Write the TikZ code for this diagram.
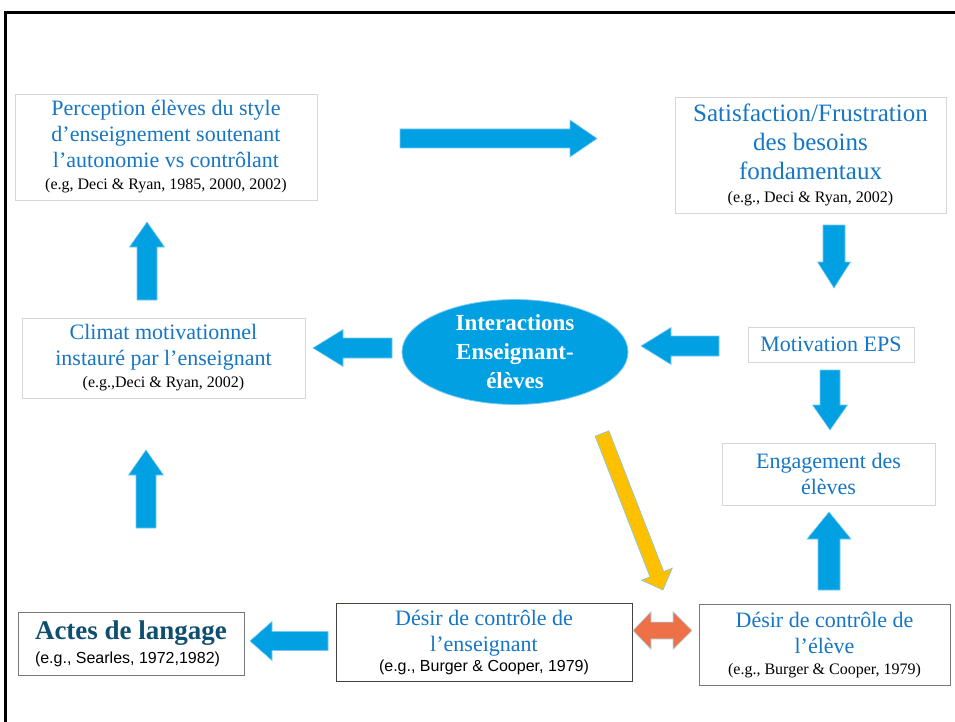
\documentclass[tikz,border=0pt]{standalone}
\usepackage{fontspec}
\setmainfont{Liberation Serif}
\setsansfont{Liberation Sans}
\usetikzlibrary{calc,shapes.geometric}

\definecolor{arrowblue}{RGB}{0,160,227}
\definecolor{arrowedge}{RGB}{120,200,240}
\definecolor{textblue}{RGB}{22,118,198}
\definecolor{lightframe}{RGB}{214,214,214}
\definecolor{midframe}{RGB}{120,120,120}
\definecolor{darkframe}{RGB}{70,65,60}
\definecolor{teal}{RGB}{14,78,110}
\definecolor{orangearrow}{RGB}{237,112,70}
\definecolor{yellowarrow}{RGB}{255,192,0}

% block arrow: #1 style, #2 tail, #3 tip, #4 half shaft, #5 half head, #6 head length
\newcommand\blockarrow[6]{%
  \coordinate (ba-h) at ($(#3)!#6pt!(#2)$);
  \filldraw[#1] ($(#2)!#4pt!90:(#3)$) -- ($(ba-h)!#4pt!90:(#3)$)
    -- ($(ba-h)!#5pt!90:(#3)$) -- (#3) -- ($(ba-h)!#5pt!-90:(#3)$)
    -- ($(ba-h)!#4pt!-90:(#3)$) -- ($(#2)!#4pt!-90:(#3)$) -- cycle;
}

\begin{document}
\begin{tikzpicture}[x=1pt,y=-1pt,
  box/.style={draw=lightframe, line width=0.9pt, fill=white, inner sep=0pt,
    align=center, text=textblue},
  bigtxt/.style={font=\fontsize{22}{26}\selectfont},
  blue arrow/.style={fill=arrowblue, draw=arrowedge, line width=0.6pt},
  line join=miter]
\useasboundingbox (0,0) rectangle (955,722);

% page frame
\draw[line width=3pt] (5.5,722) -- (5.5,12.5) -- (955,12.5);

% boxes
\node[box, bigtxt, minimum width=302, minimum height=106] (perc) at (166,147)
  {Perception élèves du style\\ d’enseignement soutenant\\ l’autonomie vs contrôlant\\[-4pt]
   {\fontsize{16}{20}\selectfont\color{black}(e.g, Deci \& Ryan, 1985, 2000, 2002)}};

\node[box, font=\fontsize{25}{29}\selectfont, minimum width=271, minimum height=116] (satis) at (810.5,155)
  {Satisfaction/Frustration\\ des besoins\\ fondamentaux\\[-6pt]
   {\fontsize{16}{20}\selectfont\color{black}(e.g., Deci \& Ryan, 2002)}};

\node[box, bigtxt, minimum width=283, minimum height=80] (climat) at (163.5,358)
  {Climat motivationnel\\ instauré par l’enseignant\\[-4pt]
   {\fontsize{16}{20}\selectfont\color{black}(e.g.,Deci \& Ryan, 2002)}};

\node[box, bigtxt, minimum width=166, minimum height=35] (motiv) at (831,344.5)
  {Motivation EPS};

\node[box, bigtxt, minimum width=213, minimum height=62] (engag) at (828.5,474)
  {Engagement des\\ élèves};

\node[box, draw=midframe, align=left, minimum width=226, minimum height=63] (actes) at (131,644)
  {{\fontsize{27}{29}\selectfont\bfseries\color{teal}Actes de langage}\\[6pt]
   {\sffamily\fontsize{16}{20}\selectfont\color{black}(e.g., Searles, 1972,1982)}};

\node[box, draw=darkframe, bigtxt, minimum width=296, minimum height=78] (desens) at (484,642)
  {Désir de contrôle de\\ l’enseignant\\[-6pt]
   {\sffamily\fontsize{16}{20}\selectfont\color{black}(e.g., Burger \& Cooper, 1979)}};

\node[box, draw=midframe, bigtxt, minimum width=251, minimum height=81] (deselev) at (824.5,645)
  {Désir de contrôle de\\ l’élève\\[-5pt]
   {\fontsize{16}{20}\selectfont\color{black}(e.g., Burger \& Cooper, 1979)}};

% central ellipse
\node[ellipse, fill=arrowblue, draw=arrowedge, line width=0.8pt, minimum width=226,
  minimum height=95, inner sep=0pt, align=center, text=white,
  font=\fontsize{23}{29}\selectfont\bfseries] (inter) at (515,352)
  {Interactions\\ Enseignant-\\ élèves};

% arrow end points
\coordinate (a1t) at (400,138.5); \coordinate (a1p) at (597,138.5);
\coordinate (a2t) at (834,225);   \coordinate (a2p) at (834,288);
\coordinate (a3t) at (147,300);   \coordinate (a3p) at (147,222);
\coordinate (a4t) at (392,348);   \coordinate (a4p) at (313,348);
\coordinate (a5t) at (719,346);   \coordinate (a5p) at (641,346);
\coordinate (a6t) at (830,370);   \coordinate (a6p) at (830,430);
\coordinate (a7t) at (146,528);   \coordinate (a7p) at (146,450);
\coordinate (a8t) at (829,590);   \coordinate (a8p) at (829,512);
\coordinate (a9t) at (328,641);   \coordinate (a9p) at (250,641);
\coordinate (ayt) at (602,433.5); \coordinate (ayp) at (663,590);

% blue block arrows
\blockarrow{blue arrow}{a1t}{a1p}{9.5}{18.5}{27}
\blockarrow{blue arrow}{a2t}{a2p}{11}{16.5}{26}
\blockarrow{blue arrow}{a3t}{a3p}{10}{17.5}{25}
\blockarrow{blue arrow}{a4t}{a4p}{10}{18.5}{30}
\blockarrow{blue arrow}{a5t}{a5p}{10}{18.5}{30}
\blockarrow{blue arrow}{a6t}{a6p}{10}{17.5}{25}
\blockarrow{blue arrow}{a7t}{a7p}{10}{17.5}{25}
\blockarrow{blue arrow}{a8t}{a8p}{11}{22}{27}
\blockarrow{blue arrow}{a9t}{a9p}{9.5}{19.5}{22}

% yellow diagonal arrow
\blockarrow{fill=yellowarrow, draw=arrowedge, line width=0.6pt}{ayt}{ayp}{7.4}{16.6}{17}

% orange double arrow between the two control boxes
\filldraw[fill=orangearrow, draw=arrowedge!60, line width=0.6pt]
  (633,630.5) -- (651,611.5) -- (651,622) -- (673,622) -- (673,611.5) -- (692,630.5)
  -- (673,649.5) -- (673,639) -- (651,639) -- (651,649.5) -- cycle;
\end{tikzpicture}
\end{document}
